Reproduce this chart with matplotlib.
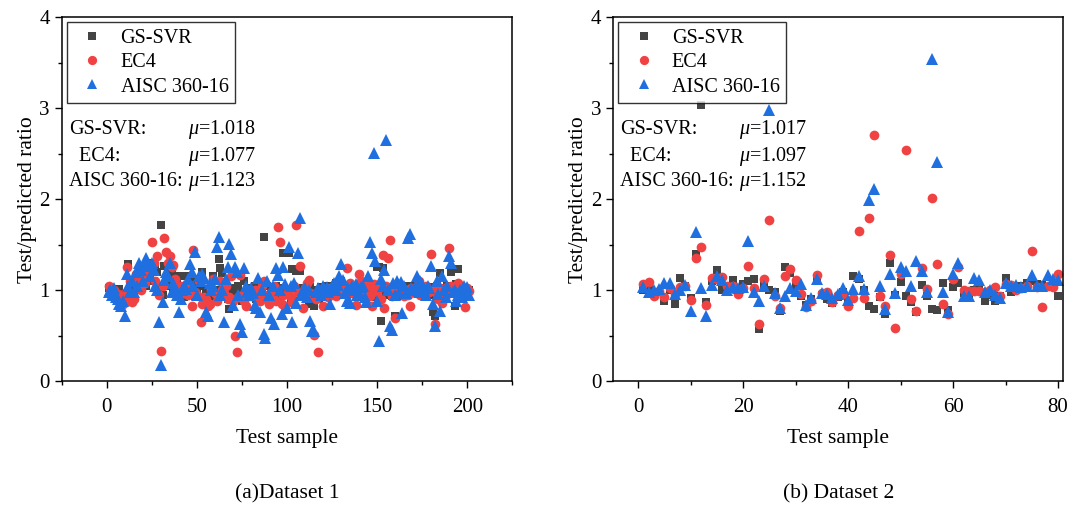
import numpy as np
import matplotlib
matplotlib.use("Agg")
import matplotlib.pyplot as plt
from matplotlib.ticker import MultipleLocator

plt.rcParams['font.family'] = ['Liberation Serif', 'DejaVu Serif']
plt.rcParams['mathtext.fontset'] = 'custom'
plt.rcParams['mathtext.rm'] = 'Liberation Serif'
plt.rcParams['mathtext.it'] = 'Liberation Serif:italic'

# ---------------- Dataset 1 (201 test samples) ----------------
d1_gs = [
    1.02, 0.98, 0.95, 1.00, 0.97, 0.93, 1.01, 0.96, 0.90, 0.88,
    0.92, 1.29, 1.05, 1.10, 0.98, 1.02, 1.15, 1.08, 1.27, 1.12,
    1.25, 1.05, 1.30, 1.18, 1.22, 1.10, 1.26, 1.20, 1.00, 1.72,
    0.95, 1.27, 1.05, 1.10, 1.27, 1.20, 1.00, 1.15, 1.08, 0.98,
    1.15, 1.03, 0.92, 1.15, 1.00, 0.96, 1.05, 1.12, 0.94, 1.00,
    1.10, 1.05, 1.20, 0.90, 1.00, 0.95, 0.88, 1.05, 1.16, 0.92,
    1.00, 1.34, 1.24, 1.19, 0.95, 1.05, 0.90, 0.79, 1.02, 0.96,
    1.00, 0.92, 1.05, 0.98, 0.88, 1.10, 0.95, 1.00, 0.93, 1.02,
    0.97, 1.05, 0.90, 0.98, 1.03, 1.00, 1.58, 0.92, 1.05, 0.95,
    0.97, 0.88, 1.00, 1.05, 0.92, 1.02, 0.98, 1.41, 0.95, 1.00,
    1.41, 0.90, 1.23, 0.88, 1.21, 1.00, 1.21, 0.95, 1.02, 0.92,
    0.98, 0.85, 1.03, 0.95, 0.82, 1.00, 0.97, 0.90, 1.03, 0.95,
    1.00, 0.98, 1.05, 1.01, 0.97, 1.02, 1.08, 0.95, 1.05, 1.10,
    1.03, 1.00, 0.98, 1.05, 0.97, 0.96, 1.02, 0.99, 1.04, 1.00,
    0.98, 1.03, 1.00, 0.97, 1.02, 0.95, 1.05, 0.92, 1.00, 1.25,
    1.25, 0.66, 1.24, 1.03, 0.95, 0.98, 1.02, 0.93, 1.00, 0.72,
    0.95, 1.00, 0.97, 0.94, 1.02, 0.95, 1.05, 0.98, 1.00, 1.04,
    0.97, 1.00, 0.96, 0.98, 0.95, 1.02, 1.00, 0.97, 1.03, 0.95,
    0.76, 0.71, 1.05, 1.00, 1.19, 1.02, 1.00, 0.96, 1.05, 1.02,
    1.20, 0.98, 0.82, 1.07, 1.23, 1.00, 0.92, 0.97, 1.02, 0.95,
    1.00]
d1_ec4 = [
    1.05, 0.98, 0.95, 1.00, 0.92, 0.96, 0.90, 0.95, 0.85, 0.97,
    1.25, 0.88, 1.10, 0.87, 0.90, 1.18, 1.05, 1.10, 1.00, 1.20,
    1.08, 1.22, 1.15, 1.25, 1.53, 1.30, 1.10, 1.38, 0.95, 0.33,
    1.05, 1.57, 1.42, 1.30, 1.38, 1.25, 1.28, 1.12, 1.02, 0.95,
    1.05, 1.00, 0.97, 1.02, 0.95, 1.00, 0.82, 1.44, 0.98, 0.95,
    1.10, 0.65, 0.85, 0.92, 0.90, 0.82, 0.85, 1.00, 1.12, 0.97,
    0.88, 0.95, 1.10, 1.00, 0.97, 1.05, 0.90, 0.92, 1.15, 0.88,
    0.49, 0.32, 0.92, 1.17, 0.95, 0.88, 0.82, 1.00, 0.98, 0.93,
    0.93, 1.00, 0.97, 0.91, 0.88, 1.05, 1.10, 0.95, 0.90, 0.85,
    0.98, 0.92, 1.05, 0.88, 1.69, 1.53, 0.85, 0.95, 0.83, 0.96,
    1.00, 0.92, 0.87, 1.05, 1.72, 0.98, 1.27, 0.96, 0.80, 1.02,
    1.08, 1.11, 0.97, 0.95, 0.51, 0.90, 0.32, 1.00, 0.97, 0.83,
    0.95, 1.00, 0.92, 1.02, 0.96, 1.00, 0.94, 1.05, 0.98, 1.00,
    1.02, 0.96, 1.24, 1.00, 1.08, 0.97, 1.02, 0.84, 1.00, 1.18,
    1.10, 0.95, 1.00, 0.97, 1.05, 0.93, 0.82, 1.07, 1.00, 0.98,
    1.02, 0.90, 1.39, 0.80, 1.05, 1.35, 1.55, 0.93, 0.97, 0.69,
    1.05, 1.07, 0.98, 1.00, 0.93, 1.00, 0.95, 0.82, 1.02, 1.00,
    0.98, 1.02, 1.10, 0.95, 1.00, 0.97, 1.05, 1.00, 0.98, 1.40,
    1.00, 0.63, 0.96, 0.90, 1.02, 0.86, 1.00, 0.95, 1.03, 1.46,
    1.05, 1.02, 0.98, 1.00, 1.08, 0.96, 1.03, 0.97, 0.81, 1.02,
    0.99]
d1_aisc = [
    0.98, 1.00, 0.95, 1.02, 0.92, 0.90, 0.85, 0.82, 0.88, 0.71,
    1.18, 1.04, 0.98, 1.10, 0.98, 1.20, 1.05, 1.30, 1.22, 1.10,
    1.31, 1.35, 1.27, 1.15, 1.30, 1.22, 1.04, 1.00, 0.65, 0.18,
    0.87, 1.11, 1.20, 1.15, 1.30, 0.98, 1.08, 1.02, 0.95, 0.76,
    0.90, 1.00, 1.05, 1.01, 1.12, 1.29, 1.20, 1.05, 1.42, 0.95,
    1.15, 1.10, 1.18, 1.13, 0.76, 0.71, 1.08, 1.00, 1.05, 1.12,
    1.47, 1.58, 0.95, 1.00, 0.65, 1.12, 1.25, 1.51, 1.40, 0.84,
    1.25, 1.20, 0.95, 0.63, 0.54, 1.24, 1.05, 0.98, 0.95, 1.02,
    0.97, 0.84, 0.80, 1.13, 0.76, 1.00, 0.52, 0.47, 1.10, 0.95,
    0.69, 1.05, 0.63, 1.24, 1.17, 1.00, 0.74, 1.25, 1.07, 0.80,
    1.47, 1.05, 0.65, 1.08, 0.86, 1.41, 1.79, 0.95, 1.00, 1.02,
    0.92, 1.00, 0.66, 0.55, 0.55, 0.98, 1.02, 1.00, 0.95, 1.05,
    1.00, 1.03, 0.98, 0.85, 1.04, 1.08, 1.00, 1.06, 1.15, 1.29,
    1.11, 0.97, 0.88, 1.02, 0.86, 1.05, 1.00, 1.07, 0.95, 0.97,
    1.03, 1.05, 0.92, 0.87, 1.15, 1.53, 1.41, 2.51, 1.32, 0.88,
    0.44, 1.12, 1.05, 1.22, 2.65, 1.00, 0.60, 0.56, 1.08, 0.95,
    1.10, 0.98, 1.09, 0.75, 1.05, 0.97, 1.57, 1.62, 1.02, 1.00,
    1.03, 1.15, 0.98, 1.10, 1.07, 1.00, 0.95, 1.05, 1.02, 1.27,
    0.85, 0.60, 1.10, 0.96, 0.77, 1.15, 1.00, 0.92, 1.05, 1.38,
    1.30, 0.98, 1.00, 0.88, 0.95, 1.00, 0.92, 1.04, 0.98, 1.03,
    0.95]

# ---------------- Dataset 2 (80 test samples) ----------------
d2_gs = [
    1.00, 1.02, 0.97, 0.98, 0.88, 1.00, 0.85, 1.13, 1.04, 0.91,
    1.40, 3.04, 0.87, 1.10, 1.22, 1.00, 1.02, 1.11, 1.00, 1.07,
    1.10, 1.12, 0.57, 1.06, 1.00, 0.98, 0.77, 1.25, 1.19, 1.05,
    0.93, 0.84, 0.90, 1.10, 0.95, 0.90, 0.86, 0.92, 0.98, 0.88,
    1.15, 1.12, 1.00, 0.82, 0.79, 0.92, 0.74, 1.30, 0.95, 1.09,
    0.93, 0.87, 0.76, 1.06, 0.93, 0.79, 0.78, 1.08, 0.78, 1.03,
    1.08, 0.97, 0.96, 1.00, 1.02, 0.88, 0.95, 0.88, 0.93, 1.13,
    0.98, 1.04, 1.05, 1.08, 1.10, 1.07, 1.06, 1.03, 1.04, 0.94]
d2_ec4 = [
    1.07, 1.09, 0.93, 0.99, 0.92, 1.02, 0.96, 1.03, 1.05, 0.89,
    1.35, 1.47, 0.84, 1.13, 1.12, 1.14, 1.05, 1.04, 0.96, 1.02,
    1.27, 1.02, 0.63, 1.12, 1.77, 0.93, 0.80, 1.15, 1.23, 1.11,
    0.96, 0.81, 0.88, 1.17, 0.97, 0.98, 0.87, 0.95, 0.96, 0.82,
    0.91, 1.65, 0.91, 1.79, 2.71, 0.94, 0.82, 1.39, 0.58, 1.18,
    2.54, 0.90, 0.77, 1.24, 1.01, 2.01, 1.29, 0.85, 0.74, 1.12,
    1.25, 1.00, 0.99, 0.99, 0.99, 0.98, 1.00, 1.03, 0.94, 1.07,
    1.06, 1.00, 1.02, 1.05, 1.43, 1.03, 0.81, 1.04, 1.03, 1.18]
d2_aisc = [
    1.03, 0.98, 1.00, 1.01, 1.08, 1.08, 0.96, 1.00, 1.06, 0.77,
    1.64, 1.02, 0.71, 1.06, 1.16, 1.11, 1.00, 1.03, 1.02, 1.03,
    1.54, 0.98, 0.88, 1.05, 2.98, 0.97, 0.80, 0.93, 1.02, 0.99,
    1.07, 0.84, 0.91, 1.12, 0.97, 0.96, 0.91, 0.96, 1.02, 0.89,
    1.01, 1.15, 1.01, 1.99, 2.11, 1.05, 0.79, 1.18, 0.97, 1.25,
    1.21, 1.04, 1.32, 1.21, 0.98, 3.54, 2.41, 0.98, 0.76, 1.18,
    1.30, 0.94, 0.93, 1.13, 1.11, 0.98, 1.00, 0.95, 0.91, 1.08,
    1.05, 1.06, 1.03, 1.04, 1.17, 1.05, 1.04, 1.17, 1.12, 1.11]

series_names = ['GS-SVR', 'EC4', 'AISC 360-16']
mu_d1 = ['1.018', '1.077', '1.123']
mu_d2 = ['1.017', '1.097', '1.152']

colors = ['#444444', '#f04242', '#1f6fe0']
markers = ['s', 'o', '^']
msizes = [6.4, 7.0, 8.0]

fig = plt.figure(figsize=(10.85, 5.07), dpi=100)
ax1 = fig.add_axes([0.0569, 0.2485, 0.4153, 0.7174])
ax2 = fig.add_axes([0.5650, 0.2485, 0.4150, 0.7174])


def draw_panel(ax, data, mus, xlim, xmajor, xminor, caption):
    for vals, name, c, m, s in zip(data, series_names, colors, markers, msizes):
        x = np.arange(1, len(vals) + 1)
        ax.plot(x, vals, linestyle='none', marker=m, ms=s, color=c,
                markeredgewidth=0, label=name)
    ax.set_xlim(*xlim)
    ax.set_ylim(0, 4)
    ax.xaxis.set_major_locator(MultipleLocator(xmajor))
    ax.xaxis.set_minor_locator(MultipleLocator(xminor))
    ax.yaxis.set_major_locator(MultipleLocator(1))
    ax.yaxis.set_minor_locator(MultipleLocator(0.5))
    ax.tick_params(which='major', direction='out', length=5, width=1, labelsize=15)
    ax.tick_params(axis='x', which='major', pad=7)
    ax.tick_params(which='minor', direction='out', length=3, width=1)
    for sp in ax.spines.values():
        sp.set_linewidth(1.1)
    ax.set_xlabel('Test sample', fontsize=15.5, labelpad=9)
    ax.set_ylabel('Test/predicted ratio', fontsize=15.5, labelpad=2)

    leg = ax.legend(loc='upper left', fontsize=14.5, frameon=True, fancybox=False,
                    edgecolor='black', borderpad=0.32, labelspacing=0.26,
                    handlelength=1.9, handletextpad=0.45, borderaxespad=0.25,
                    markerscale=0.95)
    leg.get_frame().set_linewidth(1.0)

    labels = ['GS-SVR:', '  EC4:', 'AISC 360-16:']
    ys = [0.692, 0.618, 0.549]
    for lab, mu, y in zip(labels, mus, ys):
        ax.text(0.016, y, lab, transform=ax.transAxes, fontsize=14.5, va='center')
        ax.text(0.28, y, r'$\mu$=' + mu, transform=ax.transAxes, fontsize=14.5,
                va='center')
    ax.text(0.5, -0.31, caption, transform=ax.transAxes, fontsize=15.5,
            ha='center', va='center')


draw_panel(ax1, [d1_gs, d1_ec4, d1_aisc], mu_d1, (-25, 225), 50, 25,
           '(a)Dataset 1')
draw_panel(ax2, [d2_gs, d2_ec4, d2_aisc], mu_d2, (-4.8, 81), 20, 10,
           '(b) Dataset 2')

fig.savefig('out.png', dpi=100)
